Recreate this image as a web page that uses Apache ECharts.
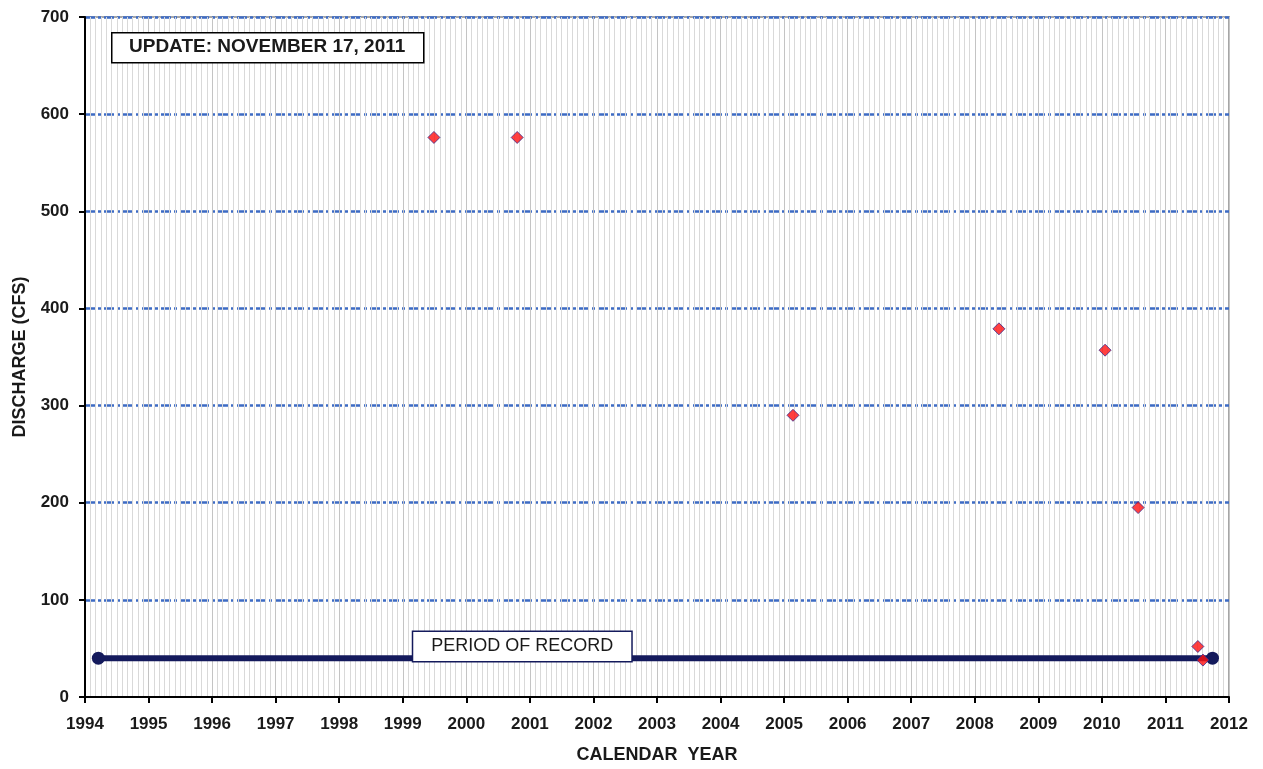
<!DOCTYPE html>
<html>
<head>
<meta charset="utf-8">
<title>Discharge</title>
<script src="https://cdn.jsdelivr.net/npm/echarts@6/dist/echarts.min.js"></script>
<style>
  html, body { margin: 0; padding: 0; background: #fff; }
  #chart { width: 1263px; height: 769px; }
</style>
</head>
<body>
<div id="chart"></div>
<script>
  // measurements (decimal year, cfs)
  var measureYears = [1999.49, 2000.80, 2005.14, 2008.38, 2010.05, 2010.57, 2011.51, 2011.59];
  var measureFlows = [576, 576, 290, 379, 357, 195, 52, 38];

  // period of record bar
  var recordYears = [1994.21, 2011.74];
  var recordLevel = 40;
  var recordLabel = 'PERIOD OF RECORD';
  var recordLabelAt = [2000.88, 52];

  var updateText = 'UPDATE: NOVEMBER 17, 2011';

  var font = '"Liberation Sans", Arial, sans-serif';

  var chart = echarts.init(document.getElementById('chart'));

  chart.setOption({
    animation: false,
    backgroundColor: '#fff',
    grid: {
      left: 85,
      right: 34,
      top: 17,
      bottom: 72,
      show: true,
      borderColor: '#a6a6a6',
      borderWidth: 2,
      backgroundColor: '#fff'
    },
    xAxis: {
      type: 'value',
      min: 1994,
      max: 2012,
      interval: 1,
      name: 'CALENDAR  YEAR',
      nameLocation: 'middle',
      nameGap: 49,
      nameTextStyle: { fontFamily: font, fontWeight: 'bold', fontSize: 18, color: '#1a1a1a' },
      axisLine: { onZero: false, lineStyle: { color: '#000', width: 2 } },
      axisTick: { length: 6, lineStyle: { color: '#000', width: 2 } },
      axisLabel: {
        margin: 19,
        fontFamily: font, fontWeight: 'bold', fontSize: 17, color: '#1a1a1a',
        formatter: function (v) { return String(v); }
      },
      splitLine: { show: true, lineStyle: { color: '#c4c4c4', width: 1 } },
      minorTick: { show: false, splitNumber: 12 },
      minorSplitLine: { show: true, lineStyle: { color: '#d9d9d9', width: 1 } }
    },
    yAxis: {
      type: 'value',
      min: 0,
      max: 700,
      interval: 100,
      name: 'DISCHARGE (CFS)',
      nameLocation: 'middle',
      nameGap: 56,
      nameTextStyle: { fontFamily: font, fontWeight: 'bold', fontSize: 18, color: '#1a1a1a' },
      axisLine: { show: true, lineStyle: { color: '#000', width: 2 } },
      axisTick: { show: true, length: 6, lineStyle: { color: '#000', width: 2 } },
      axisLabel: { margin: 16, fontFamily: font, fontWeight: 'bold', fontSize: 17, color: '#1a1a1a' },
      splitLine: {
        show: true,
        showMinLine: false,
        lineStyle: { color: '#3d6bc4', width: 2.5, type: [10, 3, 3, 3] }
      }
    },
    graphic: [{
      type: 'rect',
      left: 111,
      top: 32,
      z: 100,
      shape: { x: 0, y: 0, width: 312, height: 30 },
      style: { fill: '#fff', stroke: '#000', lineWidth: 1.5 }
    }, {
      type: 'text',
      left: 129,
      top: 37,
      z: 101,
      style: {
        text: updateText,
        fontFamily: font,
        fontWeight: 'bold',
        fontSize: 19,
        fill: '#1a1a1a'
      }
    }],
    series: [{
      type: 'line',
      data: recordYears.map(function (x) { return [x, recordLevel]; }),
      symbol: 'circle',
      symbolSize: 13,
      lineStyle: { color: '#141a5c', width: 6 },
      itemStyle: { color: '#141a5c' },
      z: 3,
      markPoint: {
        symbol: 'circle',
        symbolSize: 0,
        label: {
          show: true,
          position: 'inside',
          fontFamily: font,
          fontSize: 18,
          color: '#1a1a1a',
          backgroundColor: '#fff',
          borderColor: '#141a5c',
          borderWidth: 1.5,
          padding: [6, 18, 5, 18],
          formatter: recordLabel
        },
        data: [{ coord: recordLabelAt }]
      }
    }, {
      type: 'scatter',
      data: measureYears.map(function (x, i) { return [x, measureFlows[i]]; }),
      symbol: 'diamond',
      symbolSize: 12,
      itemStyle: { color: '#ff1010', borderColor: '#3b2b8c', borderWidth: 1 },
      z: 5
    }]
  });
</script>
</body>
</html>
